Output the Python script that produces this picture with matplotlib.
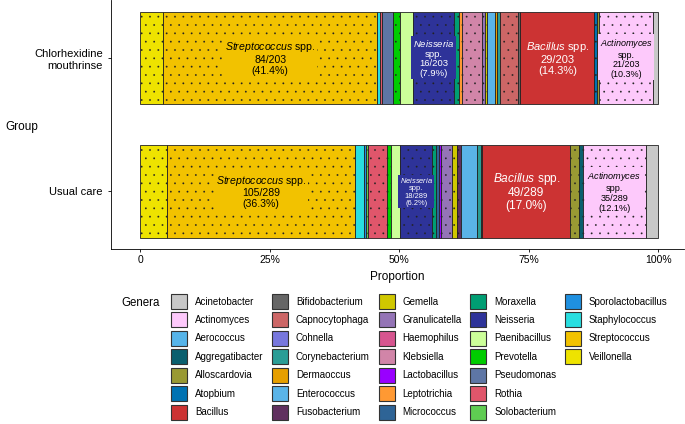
import matplotlib
matplotlib.use("Agg")
import matplotlib.pyplot as plt
from matplotlib.patches import Patch
import numpy as np

plt.rcParams["font.family"] = ["Liberation Sans", "DejaVu Sans"]
plt.rcParams["mathtext.fontset"] = "custom"
plt.rcParams["mathtext.it"] = "Liberation Sans:italic"
plt.rcParams["mathtext.rm"] = "Liberation Sans"
plt.rcParams["hatch.linewidth"] = 0.1

# Datos (orden alfabetico, como en la leyenda)
generos = ["Acinetobacter", "Actinomyces", "Aerococcus", "Aggregatibacter", "Alloscardovia",
           "Atopbium", "Bacillus", "Bifidobacterium", "Capnocytophaga", "Cohnella",
           "Corynebacterium", "Dermaoccus", "Enterococcus", "Fusobacterium", "Gemella",
           "Granulicatella", "Haemophilus", "Klebsiella", "Lactobacillus", "Leptotrichia",
           "Micrococcus", "Moraxella", "Neisseria", "Paenibacillus", "Prevotella",
           "Pseudomonas", "Rothia", "Solobacterium", "Sporolactobacillus", "Staphylococcus",
           "Streptococcus", "Veillonella"]
colores = ["#C8C8C8", "#FDC9FB", "#56B4E9", "#0A5F6E", "#999933",
           "#0072B2", "#CC3333", "#666666", "#CC6666", "#7777DD",
           "#2A9D96", "#E69F00", "#5AB4E8", "#60305F", "#D0C800",
           "#9474B6", "#D6558F", "#D185A8", "#9900FF", "#FF9933",
           "#2E6496", "#009E73", "#2E3399", "#CCFF99", "#00CC00",
           "#5E76A5", "#E0566B", "#5FCC52", "#1F90E0", "#29DEE0",
           "#F2C200", "#EEE300"]
punteado = [False, True, False, True, True,
            True, False, True, True, False,
            False, False, False, True, True,
            True, True, True, True, True,
            False, True, True, False, True,
            False, True, True, False, False,
            True, True]

n_clorhex = [2, 21, 0, 0, 1,
             1, 29, 1, 7, 0,
             1, 1, 3, 0, 1,
             1, 0, 8, 0, 1,
             0, 2, 16, 5, 3,
             4, 1, 0, 0, 1,
             84, 9]
n_usual = [7, 35, 0, 2, 5,
           0, 49, 1, 0, 0,
           2, 0, 9, 2, 3,
           6, 0, 0, 1, 0,
           2, 2, 18, 5, 2,
           0, 11, 1, 1, 5,
           105, 15]

grupos = ["Usual care", "Chlorhexidine\nmouthrinse"]
conteos = [n_usual, n_clorhex]

etiquetados = ["Streptococcus", "Neisseria", "Bacillus", "Actinomyces"]
texto_blanco = ["Neisseria", "Bacillus"]
# tamano de letra de cada etiqueta por grupo
tam_etiqueta = [{"Streptococcus": 7.6, "Neisseria": 5.4, "Bacillus": 8.6, "Actinomyces": 6.6},
                {"Streptococcus": 7.6, "Neisseria": 6.8, "Bacillus": 8.0, "Actinomyces": 6.5}]

fig = plt.figure(figsize=(6.85, 4.24), dpi=100)
ax = fig.add_axes([111 / 685, 1 - 249 / 424, 573 / 685, 249 / 424])

for gi, grupo in enumerate(grupos):
    cuenta = np.array(conteos[gi], dtype=float)
    total = cuenta.sum()
    prop = cuenta / total
    izq = 0.0
    # se apilan en orden alfabetico inverso (Veillonella a la izquierda)
    for i in reversed(range(len(generos))):
        if cuenta[i] == 0:
            continue
        ax.barh(gi + 1, prop[i], left=izq, height=0.69, color=colores[i],
                edgecolor="#222222", linewidth=0.6,
                hatch=".." if punteado[i] else None)
        g = generos[i]
        if g in etiquetados:
            nombre = "$\\it{" + g + "}$"
            if g in ["Neisseria", "Actinomyces"]:
                nombre += "\nspp."
            else:
                nombre += " spp."
            txt = f"{nombre}\n{int(cuenta[i])}/{int(total)}\n({100 * prop[i]:.1f}%)"
            ax.text(izq + prop[i] / 2, gi + 1, txt, ha="center", va="center",
                    fontsize=tam_etiqueta[gi][g], linespacing=1.1,
                    color="white" if g in texto_blanco else "black",
                    bbox=dict(boxstyle="square,pad=0.15", fc=colores[i], ec="none"))
        izq += prop[i]

ax.set_xlim(-0.056, 1.05)
ax.set_ylim(0.569, 2.434)
ax.set_yticks([1, 2])
ax.set_yticklabels(grupos, fontsize=8)
ax.set_xticks([0, 0.25, 0.5, 0.75, 1.0])
ax.set_xticklabels(["0", "25%", "50%", "75%", "100%"], fontsize=7.5)
ax.tick_params(length=2.5, width=0.6, pad=2, colors="black")
ax.tick_params(axis="y", pad=3.5)
ax.spines["top"].set_visible(False)
ax.spines["right"].set_visible(False)
ax.spines["left"].set_linewidth(0.6)
ax.spines["bottom"].set_linewidth(0.6)
ax.set_xlabel("Proportion", fontsize=8.5, labelpad=4)
fig.text(5 / 685, 1 - 127 / 424, "Group", fontsize=8.5, ha="left", va="center")

# Leyenda
handles = [Patch(facecolor=c, edgecolor="#333333", linewidth=0.8, label=g)
           for g, c in zip(generos, colores)]
handles += [Patch(visible=False, label="") for _ in range(3)]
fig.legend(handles=handles, ncol=5, loc="upper left",
           bbox_to_anchor=(171 / 685, 1 - 294 / 424), frameon=False, fontsize=7,
           handlelength=1.65, handleheight=2.0, labelspacing=0.35,
           columnspacing=0.9, handletextpad=0.8, borderpad=0, borderaxespad=0)
fig.text(121 / 685, 1 - 303 / 424, "Genera", fontsize=8.3, ha="left", va="center")

fig.savefig("out.png", dpi=100)
